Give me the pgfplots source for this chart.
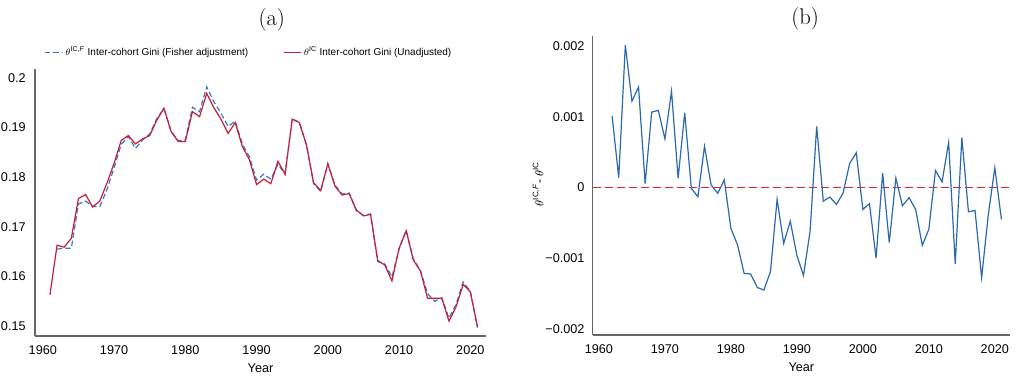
\documentclass[border=0pt]{standalone}
\usepackage{pgfplots}
\pgfplotsset{compat=1.18}
\usepackage{fontspec}
\setsansfont{Liberation Sans}
\definecolor{fblue}{HTML}{3A78BE}
\definecolor{ured}{HTML}{C41E3A}
\definecolor{bblue}{HTML}{2A68B0}
\definecolor{zeroline}{RGB}{225,35,50}
\definecolor{axgray}{HTML}{666666}
\pgfplotstableread{
year val
1961 0.1563
1962 0.1663
1963 0.1659
1964 0.1677
1965 0.1757
1966 0.1765
1967 0.1740
1968 0.1752
1969 0.1788
1970 0.1828
1971 0.1874
1972 0.1884
1973 0.1867
1974 0.1877
1975 0.1884
1976 0.1915
1977 0.1939
1978 0.1892
1979 0.1872
1980 0.1872
1981 0.1932
1982 0.1922
1983 0.1969
1984 0.1940
1985 0.1917
1986 0.1888
1987 0.1910
1988 0.1862
1989 0.1835
1990 0.1785
1991 0.1796
1992 0.1787
1993 0.1832
1994 0.1806
1995 0.1917
1996 0.1910
1997 0.1865
1998 0.1789
1999 0.1773
2000 0.1827
2001 0.1782
2002 0.1764
2003 0.1767
2004 0.1734
2005 0.1722
2006 0.1725
2007 0.1632
2008 0.1623
2009 0.1591
2010 0.1657
2011 0.1692
2012 0.1633
2013 0.1611
2014 0.1556
2015 0.1556
2016 0.1556
2017 0.1510
2018 0.1539
2019 0.1584
2020 0.1569
2021 0.1499
}\unadj
\pgfplotstableread{
year val
1962 0.1655
1963 0.1657
1964 0.1657
1965 0.1746
1966 0.1752
1967 0.1741
1968 0.1741
1969 0.1775
1970 0.1819
1971 0.1866
1972 0.1882
1973 0.1858
1974 0.1875
1975 0.1887
1976 0.1918
1977 0.1938
1978 0.1893
1979 0.1873
1980 0.1875
1981 0.1941
1982 0.1932
1983 0.1982
1984 0.1952
1985 0.1929
1986 0.1902
1987 0.1913
1988 0.1867
1989 0.1841
1990 0.1794
1991 0.1806
1992 0.1796
1993 0.1826
1994 0.1806
1995 0.1917
1996 0.1911
1997 0.1865
1998 0.1787
1999 0.1771
2000 0.1827
2001 0.1784
2002 0.1766
2003 0.1768
2004 0.1732
2005 0.1723
2006 0.1726
2007 0.1630
2008 0.1625
2009 0.1599
2010 0.1655
2011 0.1693
2012 0.1635
2013 0.1612
2014 0.1565
2015 0.1550
2016 0.1557
2017 0.1516
2018 0.1544
2019 0.1589
2020 0.1570
2021 0.1497
}\fisher
\pgfplotstableread{
year val
1962 0.00101
1963 0.00014
1964 0.00201
1965 0.00122
1966 0.00142
1967 0.000057
1968 0.001066
1969 0.00109
1970 0.000687
1971 0.00136
1972 0.000133
1973 0.001057
1974 -0.00001
1975 -0.000128
1976 0.000583
1977 0.000038
1978 -0.00008
1979 0.000109
1980 -0.000578
1981 -0.000806
1982 -0.00121
1983 -0.00122
1984 -0.00141
1985 -0.001445
1986 -0.001185
1987 -0.000166
1988 -0.000787
1989 -0.000474
1990 -0.000957
1991 -0.00124
1992 -0.000616
1993 0.000863
1994 -0.00019
1995 -0.000133
1996 -0.000237
1997 -0.000076
1998 0.000341
1999 0.000493
2000 -0.000308
2001 -0.000227
2002 -0.000995
2003 0.000204
2004 -0.000777
2005 0.000133
2006 -0.000256
2007 -0.000142
2008 -0.000308
2009 -0.000815
2010 -0.000588
2011 0.000242
2012 0.000081
2013 0.00064
2014 -0.001076
2015 0.000706
2016 -0.000341
2017 -0.000322
2018 -0.00127
2019 -0.000389
2020 0.00028
2021 -0.00045
}\diffdata
\pgfplotsset{
  mystyle/.style={
    scale only axis,
    axis x line*=bottom, axis y line*=left,
    axis line style={axgray, line width=1pt, -},
    major tick length=0pt,
    font=\sffamily,
    tick label style={font=\fontsize{9.5}{10}\selectfont\sffamily},
    xtick={1960,1970,1980,1990,2000,2010,2020},
    xticklabels={1960,1970,1980,1990,2000,2010,2020},
    xticklabel style={yshift=-3.5pt},
    xlabel={Year},
    xlabel style={at={(axis description cs:0.5,0)}, anchor=center, yshift=-24pt, font=\fontsize{9.5}{10}\selectfont\sffamily},
    scaled ticks=false,
    clip=false,
  }
}
\begin{document}
\begin{tikzpicture}
\useasboundingbox (0,0) rectangle (762pt,283.5pt);
\begin{axis}[mystyle,
  at={(26.25pt,31.5pt)}, anchor=south west,
  width=338.25pt, height=200.25pt,
  xmin=1958.9, xmax=2022.2, ymin=0.148, ymax=0.2018,
  ytick={0.15,0.16,0.17,0.18,0.19,0.2},
  yticklabels={0.15,0.16,0.17,0.18,0.19,0.2},
  yticklabel style={xshift=-3.5pt},
  title={(a)},
  title style={at={(axis description cs:0.525,1.0)}, anchor=center, yshift=31pt, font=\fontsize{17}{17}\selectfont\rmfamily},
  legend columns=2,
  legend style={draw=none, fill=none, at={(axis description cs:0.475,1.062)}, anchor=center,
    font=\fontsize{7.5}{8}\selectfont\sffamily,
    /tikz/every even column/.append style={column sep=24pt}},
  legend image code/.code={\draw[#1] (0pt,0pt) -- (12.75pt,0pt);},
]
\addplot[fblue, line width=0.9pt, dash pattern=on 4pt off 2.2pt] table[x=year,y=val] {\fisher};
\addlegendentry{$\theta$\textsuperscript{IC,\textit{F}} Inter-cohort Gini (Fisher adjustment)}
\addplot[ured, line width=0.9pt] table[x=year,y=val] {\unadj};
\addlegendentry{$\theta$\textsuperscript{IC} Inter-cohort Gini (Unadjusted)}
\end{axis}
\begin{axis}[mystyle,
  at={(444.5pt,32.25pt)}, anchor=south west,
  width=313pt, height=224.25pt,
  xmin=1959.05, xmax=2022.3, ymin=-0.00208, ymax=0.00214,
  ytick={-0.002,-0.001,0,0.001,0.002},
  yticklabels={−0.002,−0.001,0,0.001,0.002},
  yticklabel style={xshift=-2.6pt},
  extra y ticks={0},
  extra y tick labels={},
  extra y tick style={ymajorgrids=true, major grid style={color=zeroline, line width=1.1pt, dash pattern=on 6pt off 3pt}},
  ylabel={$\theta$\textsuperscript{IC,\textit{F}}- $\theta$\textsuperscript{IC}},
  ylabel style={at={(axis description cs:-0.131,0.505)}, anchor=center, font=\fontsize{9}{10}\selectfont\sffamily},
  title={(b)},
  title style={at={(axis description cs:0.509,1.0)}, anchor=center, yshift=6.5pt, font=\fontsize{17}{17}\selectfont\rmfamily},
]
\addplot[draw=bblue, line width=0.9pt, mark=none] table[x=year,y=val] {\diffdata};
\end{axis}
\end{tikzpicture}
\end{document}
